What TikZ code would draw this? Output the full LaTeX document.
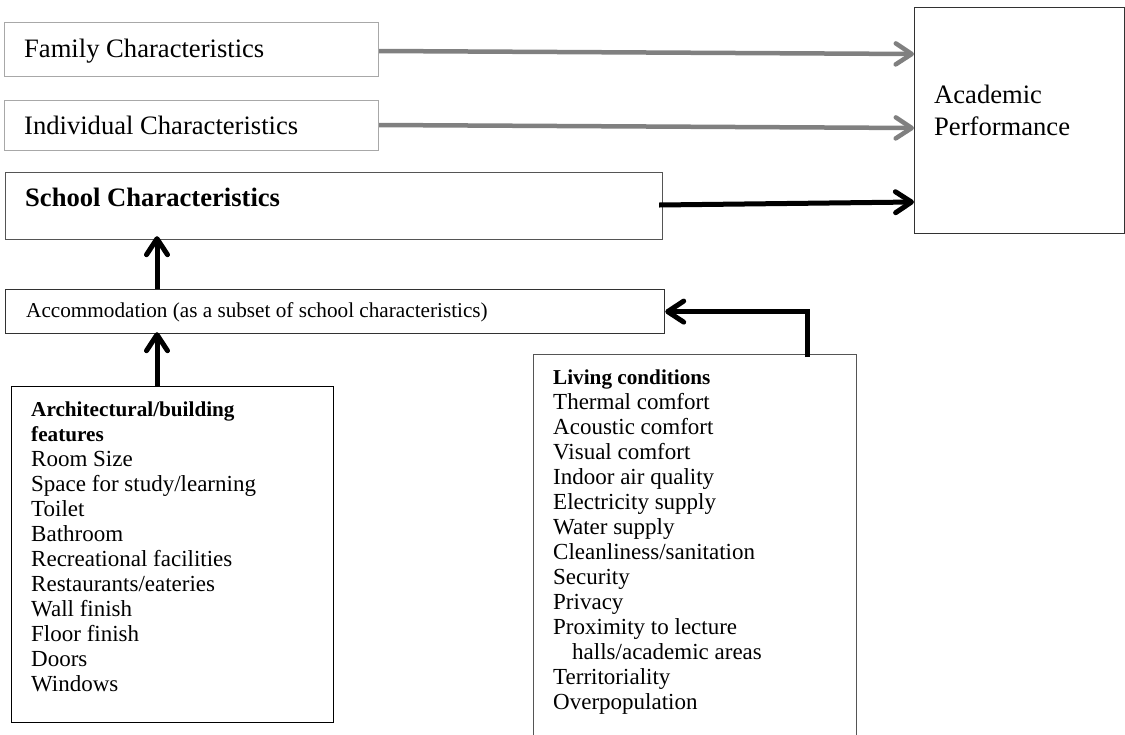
\documentclass[tikz,border=0pt]{standalone}
\usepackage{fontspec}
\setmainfont{Liberation Serif}
\usetikzlibrary{arrows.meta,calc}
\definecolor{lightframe}{RGB}{168,168,168}
\definecolor{midframe}{RGB}{85,85,85}
\definecolor{darkframe}{RGB}{50,50,50}
\definecolor{arrowgray}{RGB}{128,128,128}
\begin{document}
\begin{tikzpicture}[x=1pt,y=-1pt,
  box/.style={draw, inner sep=0pt, anchor=north west, line width=1.2pt},
  bigtext/.style={anchor=base west, inner sep=0pt, font=\fontsize{26.6}{32}\selectfont, align=left},
  smalltext/.style={anchor=base west, inner sep=0pt, font=\fontsize{21.2}{25}\selectfont},
  listtext/.style={anchor=base west, inner sep=0pt, font=\fontsize{23}{25}\selectfont, align=left},
  grayarrow/.style={draw=arrowgray, line width=4.5pt, -{Straight Barb[length=16pt,width=21pt,round]}},
  blackarrow/.style={draw=black, line width=5pt, -{Straight Barb[length=16pt,width=21pt,round]}}
]
\useasboundingbox (0,0) rectangle (1125,734);
\clip (0,0) rectangle (1125,734);
\fill[white] (0,0) rectangle (1125,734);

% boxes
\node[box, draw=lightframe, minimum width=374pt, minimum height=54pt] (fam) at (4,22) {};
\node[box, draw=lightframe, minimum width=374pt, minimum height=50pt] (ind) at (4,100) {};
\node[box, draw=midframe, minimum width=657pt, minimum height=67pt] (sch) at (5,172) {};
\node[box, draw=darkframe, minimum width=659pt, minimum height=44pt] (acc) at (5,289) {};
\node[box, draw=darkframe, minimum width=210pt, minimum height=226pt] (acad) at (914,7) {};
\node[box, draw=black, minimum width=322pt, minimum height=336pt] (arch) at (11,386) {};
\node[box, draw=midframe, minimum width=323pt, minimum height=420pt] (liv) at (533,354) {};

% texts (base anchor of a multi-line node = baseline of its last line)
\node[bigtext] (famt) at ($(fam.north west)+(20,35)$) {Family Characteristics};
\node[bigtext] (indt) at ($(ind.north west)+(20,34)$) {Individual Characteristics};
\node[bigtext, font=\fontsize{26.6}{32}\selectfont\bfseries] (scht) at ($(sch.north west)+(20,34)$) {School Characteristics};
\node[smalltext] (acct) at ($(acc.north west)+(21,28)$) {Accommodation (as a subset of school characteristics)};
\node[bigtext] (acadt) at ($(acad.north west)+(20,128)$) {Academic\\Performance};

\node[listtext] (archt) at ($(arch.north west)+(20,305)$) {%
{\fontsize{21.2}{25}\selectfont\bfseries Architectural/building}\\
{\fontsize{21.2}{25}\selectfont\bfseries features}\\
Room Size\\
Space for study/learning\\
Toilet\\
Bathroom\\
Recreational facilities\\
Restaurants/eateries\\
Wall finish\\
Floor finish\\
Doors\\
Windows};

\node[listtext] (livt) at ($(liv.north west)+(20,355)$) {%
{\fontsize{21.2}{25}\selectfont\bfseries Living conditions}\\
Thermal comfort\\
Acoustic comfort\\
Visual comfort\\
Indoor air quality\\
Electricity supply\\
Water supply\\
Cleanliness/sanitation\\
Security\\
Privacy\\
Proximity to lecture\\
\hspace*{19pt}halls/academic areas\\
Territoriality\\
Overpopulation};

% connectors
\draw[grayarrow] ($(fam.north east)+(0,29)$) -- ($(acad.north west)+(0,47)$);
\draw[grayarrow] ($(ind.north east)+(0,25)$) -- ($(acad.north west)+(0,121)$);
\draw[blackarrow] ($(sch.north east)+(-4,33)$) -- ($(acad.north west)+(0,195)$);
\draw[blackarrow] ($(acc.north west)+(152,0)$) coordinate (up1) -- ($(up1 |- sch.south)+(0,-4)$);
\draw[blackarrow] ($(arch.north west)+(146,0)$) coordinate (up2) -- ($(up2 |- acc.south)+(0,-2)$);
\draw[blackarrow] ($(liv.north west)+(274,3)$) coordinate (bar) -- (bar |- acc.east) -- (acc.east);
\end{tikzpicture}
\end{document}
